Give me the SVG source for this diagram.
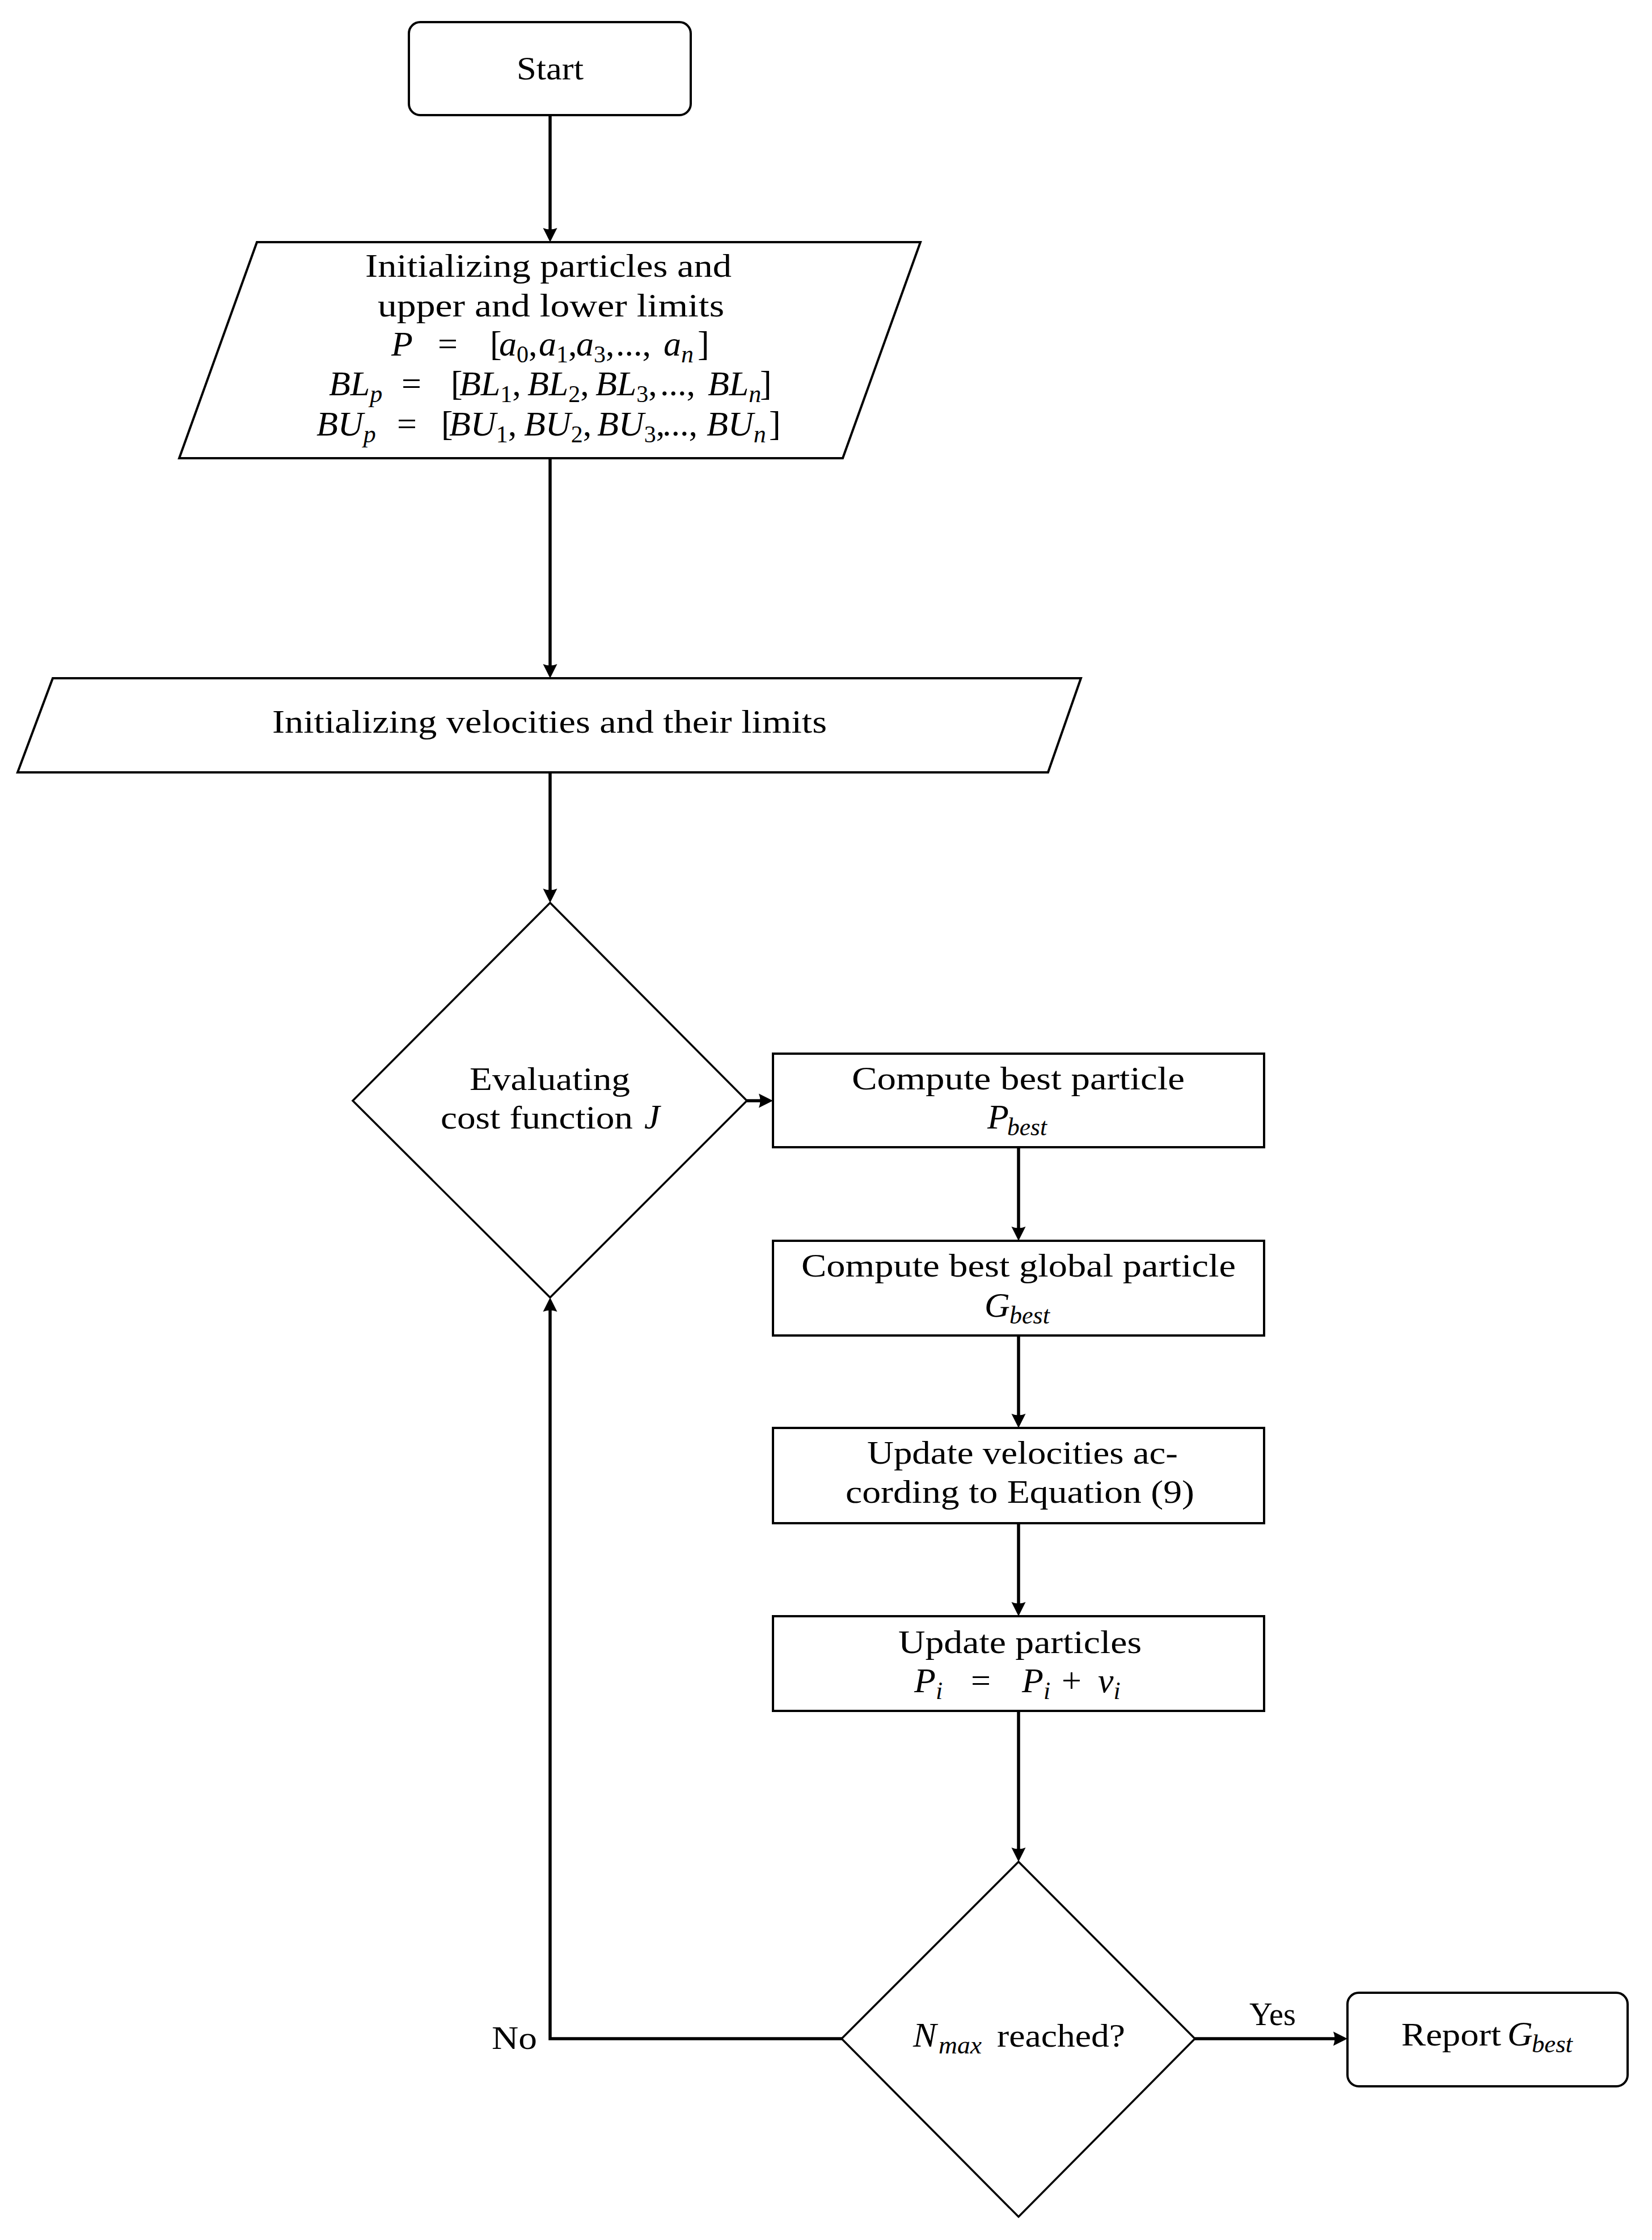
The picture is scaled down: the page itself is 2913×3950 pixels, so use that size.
<svg xmlns="http://www.w3.org/2000/svg" width="2913" height="3950" viewBox="0 0 2913 3950">
<style>
.n{fill:#fff;stroke:#000;stroke-width:4}
.d{fill:#fff;stroke:#000;stroke-width:3.5}
.c{fill:none;stroke:#000;stroke-width:5.5}
text{font-family:"Liberation Serif","Times New Roman",serif;font-size:57px;fill:#000}
.m{font-size:62px}
.i{font-style:italic;font-size:62px}
.s{font-style:italic;font-size:44px}
.r{font-style:normal;font-size:42px}
</style>
<defs>
<marker id="ah" markerUnits="userSpaceOnUse" markerWidth="30" markerHeight="30" viewBox="0 -15 30 30" refX="7" refY="0" orient="auto" overflow="visible">
<path d="M0,-12.5 L25,0 L0,12.5 Q5,0 0,-12.5 Z" fill="#000"/>
</marker>
</defs>
<rect width="2913" height="3950" fill="#fff"/>
<g id="connectors">
<path class="c" d="M970,203 V409" marker-end="url(#ah)"/>
<path class="c" d="M970,808 V1178" marker-end="url(#ah)"/>
<path class="c" d="M970,1362 V1574" marker-end="url(#ah)"/>
<path class="c" d="M1317,1941 H1345" marker-end="url(#ah)"/>
<path class="c" d="M1796,2023 V2170" marker-end="url(#ah)"/>
<path class="c" d="M1796,2355 V2500" marker-end="url(#ah)"/>
<path class="c" d="M1796,2686 V2832" marker-end="url(#ah)"/>
<path class="c" d="M1796,3017 V3265" marker-end="url(#ah)"/>
<path class="c" d="M2107,3595 H2358" marker-end="url(#ah)"/>
<path class="c" d="M1484,3595 H970 V2306" marker-end="url(#ah)"/>
<text x="2203" y="3571" textLength="82" lengthAdjust="spacingAndGlyphs">Yes</text>
<text x="867" y="3613" textLength="80" lengthAdjust="spacingAndGlyphs">No</text>
</g>
<g id="start">
<rect class="n" x="721" y="39" width="497" height="164" rx="20"/>
<text x="911" y="140" textLength="118" lengthAdjust="spacingAndGlyphs">Start</text>
</g>
<g id="init-particles">
<polygon class="n" points="453,427 1623,427 1486,808 316,808"/>
<text x="644" y="488" textLength="646" lengthAdjust="spacingAndGlyphs">Initializing particles and</text>
<text x="666" y="558" textLength="611" lengthAdjust="spacingAndGlyphs">upper and lower limits</text>
<text class="m" y="627"><tspan x="690" class="i">P</tspan><tspan x="772">=</tspan><tspan x="864">[</tspan><tspan x="880" class="i">a</tspan><tspan class="r" dy="12">0</tspan><tspan dy="-12">,</tspan><tspan x="950" class="i">a</tspan><tspan class="r" dy="12">1</tspan><tspan dy="-12">,</tspan><tspan x="1016" class="i">a</tspan><tspan class="r" dy="12">3</tspan><tspan dy="-12">,</tspan><tspan x="1086">...,</tspan><tspan x="1170" class="i">a</tspan><tspan class="s" dy="12">n</tspan><tspan x="1230" dy="-12">]</tspan></text>
<text class="m" y="697"><tspan x="580" class="i">BL</tspan><tspan class="s" dy="12">p</tspan><tspan x="708" dy="-12">=</tspan><tspan x="795">[</tspan><tspan x="810" class="i">BL</tspan><tspan class="r" dy="12">1</tspan><tspan dy="-12">,</tspan><tspan x="930" class="i">BL</tspan><tspan class="r" dy="12">2</tspan><tspan dy="-12">,</tspan><tspan x="1050" class="i">BL</tspan><tspan class="r" dy="12">3</tspan><tspan dy="-12">,</tspan><tspan x="1164">...,</tspan><tspan x="1248" class="i">BL</tspan><tspan class="s" dy="12">n</tspan><tspan x="1340" dy="-12">]</tspan></text>
<text class="m" y="768"><tspan x="558" class="i">BU</tspan><tspan class="s" dy="12">p</tspan><tspan x="700" dy="-12">=</tspan><tspan x="778">[</tspan><tspan x="792" class="i">BU</tspan><tspan class="r" dy="12">1</tspan><tspan dy="-12">,</tspan><tspan x="924" class="i">BU</tspan><tspan class="r" dy="12">2</tspan><tspan dy="-12">,</tspan><tspan x="1053" class="i">BU</tspan><tspan class="r" dy="12">3</tspan><tspan dy="-12">,</tspan><tspan x="1168">...,</tspan><tspan x="1246" class="i">BU</tspan><tspan class="s" dy="12">n</tspan><tspan x="1356" dy="-12">]</tspan></text>
</g>
<g id="init-velocities">
<polygon class="n" points="93,1196 1906,1196 1848,1362 31,1362"/>
<text x="480" y="1292" textLength="978" lengthAdjust="spacingAndGlyphs">Initializing velocities and their limits</text>
</g>
<g id="evaluate">
<polygon class="d" points="970,1592 1317,1941 970,2288 622,1941"/>
<text x="828" y="1922" textLength="283" lengthAdjust="spacingAndGlyphs">Evaluating</text>
<text x="777" y="1990" textLength="339" lengthAdjust="spacingAndGlyphs">cost function</text>
<text x="1136" y="1990" class="i">J</text>
</g>
<g id="pbest">
<rect class="n" x="1363" y="1858" width="866" height="165"/>
<text x="1502" y="1921" textLength="587" lengthAdjust="spacingAndGlyphs">Compute best particle</text>
<text y="1990"><tspan x="1741" class="i">P</tspan><tspan x="1776" y="2002" class="s" textLength="70" lengthAdjust="spacingAndGlyphs">best</tspan></text>
</g>
<g id="gbest">
<rect class="n" x="1363" y="2188" width="866" height="167"/>
<text x="1413" y="2251" textLength="766" lengthAdjust="spacingAndGlyphs">Compute best global particle</text>
<text y="2322"><tspan x="1736" class="i">G</tspan><tspan x="1780" y="2334" class="s" textLength="71" lengthAdjust="spacingAndGlyphs">best</tspan></text>
</g>
<g id="update-velocities">
<rect class="n" x="1363" y="2518" width="866" height="168"/>
<text x="1529" y="2581" textLength="548" lengthAdjust="spacingAndGlyphs">Update velocities ac-</text>
<text x="1491" y="2650" textLength="615" lengthAdjust="spacingAndGlyphs">cording to Equation (9)</text>
</g>
<g id="update-particles">
<rect class="n" x="1363" y="2850" width="866" height="167"/>
<text x="1584" y="2915" textLength="429" lengthAdjust="spacingAndGlyphs">Update particles</text>
<text class="m" y="2984"><tspan x="1612" class="i">P</tspan><tspan class="s" dy="12">i</tspan><tspan x="1712" dy="-12">=</tspan><tspan x="1802" class="i">P</tspan><tspan class="s" dy="12">i</tspan><tspan x="1872" dy="-12">+</tspan><tspan x="1936" class="i">v</tspan><tspan class="s" dy="12">i</tspan></text>
</g>
<g id="nmax">
<polygon class="d" points="1796,3283 2107,3595 1796,3909 1484,3595"/>
<text y="3609"><tspan x="1610" class="i">N</tspan><tspan x="1655" y="3621" class="s" textLength="76" lengthAdjust="spacingAndGlyphs">max</tspan><tspan x="1758" y="3609" textLength="226" lengthAdjust="spacingAndGlyphs">reached?</tspan></text>
</g>
<g id="report">
<rect class="n" x="2376" y="3514" width="494" height="165" rx="20"/>
<text x="2471" y="3607" textLength="176" lengthAdjust="spacingAndGlyphs">Report</text>
<text y="3607"><tspan x="2658" class="i">G</tspan><tspan x="2701" y="3619" class="s" textLength="72" lengthAdjust="spacingAndGlyphs">best</tspan></text>
</g>
</svg>
